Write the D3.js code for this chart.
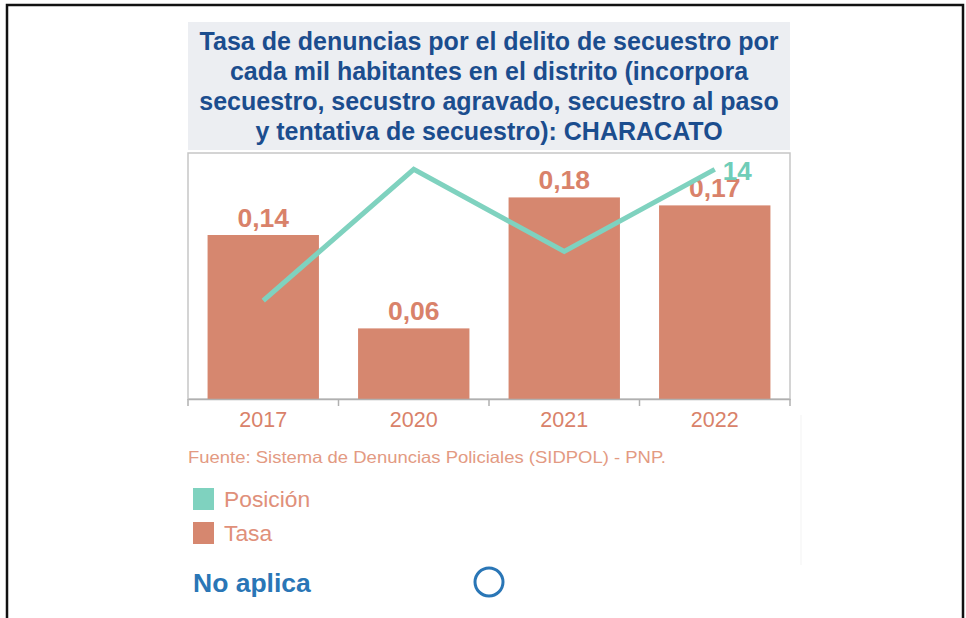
<!DOCTYPE html>
<html><head><meta charset="utf-8">
<script src="https://cdn.jsdelivr.net/npm/d3@7"></script>
<style>body{margin:0;background:#fff;font-family:"Liberation Sans",Arial,sans-serif;}</style>
</head><body><svg id="c" width="966" height="618"></svg>
<script>
const years = ["2017","2020","2021","2022"];
const tasa = [0.144, 0.062, 0.177, 0.170];
const posicion = [6, 14, 9, 14];
const titleLines = ["Tasa de denuncias por el delito de secuestro por","cada mil habitantes en el distrito (incorpora","secuestro, secustro agravado, secuestro al paso","y tentativa de secuestro): CHARACATO"];
const legendItems = [{name:"Posición", color:"#7fd2bf"},{name:"Tasa", color:"#d6876f"}];
const sourceText = "Fuente: Sistema de Denuncias Policiales (SIDPOL) - PNP.";

const svg = d3.select("#c");
const barColor = "#d6876f", labelColor = "#d9826a", lineColor = "#7fd2bf";
// outer frame
svg.append("path").attr("d","M7,618 V5 H963 V618").attr("fill","none").attr("stroke","#111").attr("stroke-width",2.5);

// title box
const L = 188, R = 790, T = 153, B = 399;
svg.append("rect").attr("x",L).attr("y",22).attr("width",R-L).attr("height",128).attr("fill","#eceef2");
svg.append("g").selectAll("text").data(titleLines).join("text")
  .attr("x",(L+R)/2).attr("y",(d,i)=>50+i*30).attr("text-anchor","middle")
  .attr("font-size",25).attr("font-weight","bold").attr("fill","#1b4d8e").text(d=>d);

const x = d3.scaleBand().domain(years).range([L,R]).paddingInner(0.26).paddingOuter(0.13);
const y = d3.scaleLinear().domain([0,0.216]).range([B,T]);
const y2 = d3.scaleLinear().domain([0,15]).range([B,T]);

// plot frame
svg.append("rect").attr("x",L).attr("y",T).attr("width",R-L).attr("height",B-T).attr("fill","none").attr("stroke","#c6c6c6").attr("stroke-width",1.5);

svg.append("g").selectAll("rect").data(years).join("rect")
  .attr("x",d=>x(d)).attr("width",x.bandwidth())
  .attr("y",(d,i)=>y(tasa[i])).attr("height",(d,i)=>B-y(tasa[i])).attr("fill",barColor);

svg.append("g").selectAll("text").data(years).join("text")
  .attr("x",d=>x(d)+x.bandwidth()/2).attr("y",(d,i)=>y(tasa[i])-8)
  .attr("text-anchor","middle").attr("font-size",26.5).attr("font-weight","bold").attr("fill",labelColor)
  .text((d,i)=>d3.format(".2f")(tasa[i]).replace(".",","));

// axis
const xa = svg.append("g").attr("transform",`translate(0,${B})`)
  .call(d3.axisBottom(x).tickSize(0).tickPadding(0));
xa.select(".domain").attr("stroke","#b0b0b0").attr("stroke-width",1.5);
xa.selectAll("text").attr("font-size",21.5).attr("fill",labelColor).attr("font-family","Liberation Sans, Arial, sans-serif").attr("dy",null).attr("y",28);
const step = x.step();
const bounds = d3.range(years.length+1).map(i=>L+i*step);
svg.append("g").selectAll("line").data(bounds).join("line")
  .attr("x1",d=>d).attr("x2",d=>d).attr("y1",B).attr("y2",B+7).attr("stroke","#b0b0b0").attr("stroke-width",1.5);

// line
const line = d3.line().x((d,i)=>x(years[i])+x.bandwidth()/2).y(d=>y2(d));
svg.append("path").datum(posicion).attr("d",line).attr("fill","none").attr("stroke",lineColor).attr("stroke-width",5);
const li = posicion.length-1;
svg.append("text").attr("x",x(years[li])+x.bandwidth()/2+8).attr("y",y2(posicion[li])+11)
  .attr("font-size",26).attr("font-weight","bold").attr("fill","#6fcdb8").text(posicion[li]);

// source
svg.append("text").attr("x",188).attr("y",463).attr("font-size",16.5).attr("fill","#e39a82")
  .attr("textLength",478).attr("lengthAdjust","spacingAndGlyphs").text(sourceText);

// legend
const lg = svg.append("g").selectAll("g").data(legendItems).join("g").attr("transform",(d,i)=>`translate(193,${488+i*34})`);
lg.append("rect").attr("width",21).attr("height",22).attr("fill",d=>d.color);
lg.append("text").attr("x",31).attr("y",19).attr("font-size",22.8).attr("fill","#e0907a").text(d=>d.name);

// faint divider
svg.append("line").attr("x1",801).attr("x2",801).attr("y1",415).attr("y2",565).attr("stroke","#f3f3f3").attr("stroke-width",1);

svg.append("text").attr("x",193).attr("y",592).attr("font-size",26.5).attr("font-weight","bold").attr("fill","#2a76b6").text("No aplica");
svg.append("circle").attr("cx",489).attr("cy",582).attr("r",14).attr("fill","none").attr("stroke","#2a76b6").attr("stroke-width",3);
</script></body></html>
